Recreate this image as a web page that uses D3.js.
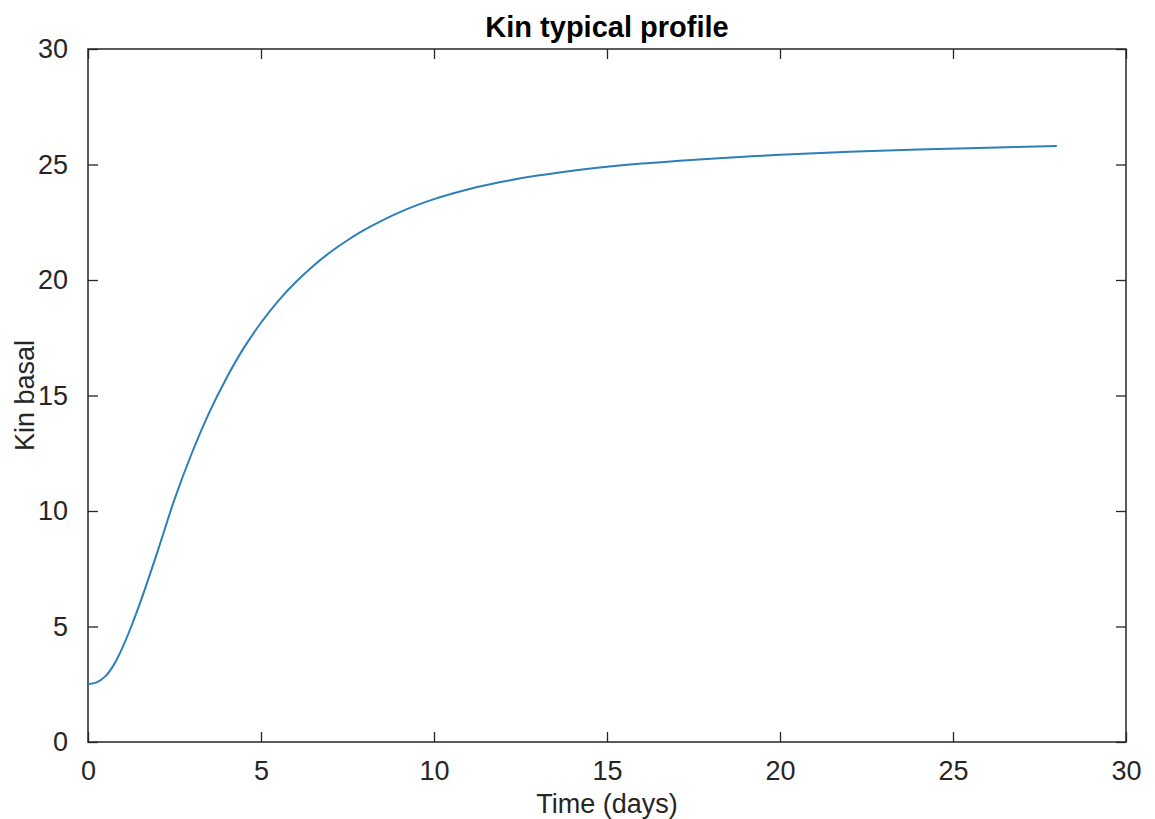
<!DOCTYPE html>
<html>
<head>
<meta charset="utf-8">
<script src="https://cdn.jsdelivr.net/npm/d3@7"></script>
<style>
  body { margin: 0; background: #fff; }
  svg { font-family: "Liberation Sans", Arial, Helvetica, sans-serif; }
</style>
</head>
<body>
<div id="chart"></div>
<script>
// values
const days = [0, 0.25, 0.5, 0.75, 1, 1.25, 1.5, 2, 2.5, 3, 3.5, 4, 4.5, 5, 5.5, 6, 6.5, 7, 7.5, 8, 9, 10, 11, 12, 13, 14, 15, 16, 17, 18, 20, 22, 24, 26, 28];
const kin = [2.5, 2.58, 2.84, 3.35, 4.1, 5.0, 6.0, 8.2, 10.5, 12.5, 14.25, 15.75, 17.05, 18.15, 19.1, 19.9, 20.6, 21.2, 21.72, 22.18, 22.93, 23.5, 23.93, 24.26, 24.52, 24.73, 24.9, 25.04, 25.15, 25.25, 25.42, 25.55, 25.65, 25.73, 25.8];
const xTicks = [0, 5, 10, 15, 20, 25, 30];
const yTicks = [0, 5, 10, 15, 20, 25, 30];

const width = 1155, height = 819;
const margin = { top: 49, right: 29, bottom: 77, left: 88 };
const w = width - margin.left - margin.right;
const h = height - margin.top - margin.bottom;
const axisColor = '#262626';

const svg = d3.select('#chart').append('svg')
    .attr('width', width)
    .attr('height', height);

const g = svg.append('g')
    .attr('transform', `translate(${margin.left},${margin.top})`);

const x = d3.scaleLinear().domain([0, 30]).range([0, w]);
const y = d3.scaleLinear().domain([0, 30]).range([h, 0]);

// ticks point inward on every side, like a boxed matlab axes
function styleAxis(sel) {
    sel.select('.domain').remove();
    sel.selectAll('line').attr('stroke', axisColor).attr('stroke-width', 1.3);
    sel.selectAll('text').attr('fill', axisColor).style('font-size', '27px');
}

g.append('g')
    .attr('transform', `translate(0,${h})`)
    .call(d3.axisBottom(x).tickValues(xTicks).tickSizeInner(-10).tickPadding(19).tickFormat(d3.format('d')))
    .call(styleAxis);

g.append('g')
    .call(d3.axisTop(x).tickValues(xTicks).tickSizeInner(-10).tickFormat(''))
    .call(styleAxis);

g.append('g')
    .call(d3.axisLeft(y).tickValues(yTicks).tickSizeInner(-10).tickPadding(20).tickFormat(d3.format('d')))
    .call(styleAxis);

g.append('g')
    .attr('transform', `translate(${w},0)`)
    .call(d3.axisRight(y).tickValues(yTicks).tickSizeInner(-10).tickFormat(''))
    .call(styleAxis);

// box
g.append('rect')
    .attr('width', w)
    .attr('height', h)
    .attr('fill', 'none')
    .attr('stroke', axisColor)
    .attr('stroke-width', 1.5);

const line = d3.line()
    .x((d, i) => x(days[i]))
    .y(d => y(d))
    .curve(d3.curveCatmullRom.alpha(0.5));

g.append('path')
    .datum(kin)
    .attr('d', line)
    .attr('fill', 'none')
    .attr('stroke', '#2d7fb8')
    .attr('stroke-width', 2);

// titles
svg.append('text')
    .attr('x', margin.left + w / 2)
    .attr('y', 37)
    .attr('text-anchor', 'middle')
    .attr('fill', '#000')
    .style('font-size', '29px')
    .style('font-weight', 'bold')
    .text('Kin typical profile');

svg.append('text')
    .attr('x', margin.left + w / 2)
    .attr('y', 813)
    .attr('text-anchor', 'middle')
    .attr('fill', axisColor)
    .style('font-size', '27px')
    .text('Time (days)');

svg.append('text')
    .attr('transform', `translate(34,${margin.top + h / 2}) rotate(-90)`)
    .attr('text-anchor', 'middle')
    .attr('fill', axisColor)
    .style('font-size', '27px')
    .text('Kin basal');
</script>
</body>
</html>
